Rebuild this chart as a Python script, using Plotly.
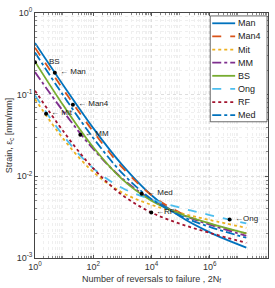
import math
import plotly.graph_objects as go

# reversals (2Nf) sample positions
N = [1, 10, 100, 1e3, 1e4, 1e5, 1e6, 1.8e7]

names = ["Man", "Man4", "Mit", "MM", "BS", "Ong", "RF", "Med"]
man  = [0.43, 0.126, 0.0389, 0.0137, 0.00586, 0.00319, 0.00206, 0.00134]
man4 = [0.376, 0.112, 0.0353, 0.0128, 0.00589, 0.00356, 0.00261, 0.00200]
mit  = [0.0882, 0.0279, 0.0113, 0.00632, 0.00447, 0.00354, 0.00292, 0.00234]
mm   = [0.189, 0.0605, 0.0216, 0.00939, 0.00518, 0.00344, 0.00256, 0.00187]
bs   = [0.254, 0.0714, 0.0227, 0.00916, 0.00502, 0.00346, 0.00266, 0.00200]
ong  = [0.098, 0.0305, 0.01254, 0.0072, 0.00519, 0.00411, 0.00336, 0.00265]
rf   = [0.112, 0.0345, 0.0125, 0.00589, 0.0036, 0.00261, 0.00203, 0.00153]
med  = [0.328, 0.0944, 0.0295, 0.01089, 0.00526, 0.00329, 0.0024, 0.00177]
series = [man, man4, mit, mm, bs, ong, rf, med]

colors = ["#0072BD", "#D95319", "#EDB120", "#7E2F8E", "#77AC30", "#4DBEEE", "#A2142F", "#0072BD"]
dashes = ["solid", "dash", "dot", "dashdot", "solid", "dash", "dot", "dashdot"]

# labelled marker points
mark_x = [1, 4.8, 20, 2.4, 36, 4600, 9800, 4.8e6]
mark_y = [0.25, 0.185, 0.075, 0.0583, 0.0323, 0.0061, 0.0036, 0.00297]
mark_txt = ["BS", "\u2190 Man", "\u2190 Man4", "\u2190 Mit", "\u2190 MM", "\u2190 Med", "\u2190RF", "\u2190Ong"]

xtick_vals = [1, 1e2, 1e4, 1e6, 1e8]
xtick_text = ["10<sup>0</sup>", "10<sup>2</sup>", "10<sup>4</sup>", "10<sup>6</sup>", "10<sup>8</sup>"]
ytick_vals = [1e-3, 1e-2, 1e-1, 1]
ytick_text = ["10<sup>-3</sup>", "10<sup>-2</sup>", "10<sup>-1</sup>", "10<sup>0</sup>"]

FONT = "Liberation Sans"
fig = go.Figure()
for nm, ys, c, d in zip(names, series, colors, dashes):
    fig.add_trace(go.Scatter(x=N, y=ys, name=nm, mode="lines", showlegend=False,
                             line=dict(color=c, dash=d, width=1.8, shape="spline")))

fig.add_trace(go.Scatter(x=mark_x, y=mark_y, mode="markers", showlegend=False,
                         marker=dict(color="black", size=4)))
for lx, ly, t in zip(mark_x, mark_y, mark_txt):
    fig.add_annotation(x=math.log10(lx), y=math.log10(ly),
                       text=t, showarrow=False, xanchor="left", yanchor="middle",
                       xshift=12 if t == "BS" else 3, yshift=1,
                       font=dict(size=8, color="#222", family=FONT))

# compact legend (MATLAB-style) built from the series lists
W, H, L, T = 234.0, 250.0, 35.0, 8.0
def px(xp):
    return (xp - L) / W
def py(yp):
    return (T + H - yp) / H
fig.add_shape(type="rect", xref="paper", yref="paper", x0=px(211), x1=px(268), y0=py(11), y1=py(119),
              line=dict(color="#444", width=0.8), fillcolor="white", layer="above")
for i, (nm, c, d) in enumerate(zip(names, colors, dashes)):
    yc = 18.5 + 13.4 * i
    fig.add_shape(type="line", xref="paper", yref="paper", x0=px(213), x1=px(236), y0=py(yc), y1=py(yc),
                  line=dict(color=c, dash=d, width=1.8), layer="above")
    fig.add_annotation(xref="paper", yref="paper", x=px(237), y=py(yc), text=nm, showarrow=False,
                       xanchor="left", yanchor="middle", font=dict(size=9, color="#222", family=FONT))

grid_major = "#dedede"
grid_minor = "#efefef"
minor_vals = [m * 10 ** e for e in range(-3, 8) for m in range(2, 10)]
common = dict(showgrid=True, gridcolor=grid_major, gridwidth=0.6, griddash="dot",
              ticks="inside", ticklen=3, tickcolor="#555", mirror="allticks",
              showline=True, linecolor="#444", linewidth=0.8, zeroline=False,
              minor=dict(showgrid=True, gridcolor=grid_minor, griddash="dot", ticks="inside",
                         ticklen=2, tickcolor="#888", tickvals=minor_vals),
              tickfont=dict(size=9, color="#333", family=FONT))
fig.update_xaxes(type="log", range=[0, 8], tickvals=xtick_vals, ticktext=xtick_text,
                 title=dict(text="Number of reversals to failure , 2N<sub>f</sub>",
                            font=dict(size=9, color="#333", family=FONT), standoff=4),
                 **common)
fig.update_yaxes(type="log", range=[-3, 0], tickvals=ytick_vals, ticktext=ytick_text,
                 title=dict(text="Strain, \u03b5<sub>c</sub> [mm/mm]",
                            font=dict(size=9, color="#333", family=FONT), standoff=2),
                 **common)

fig.update_layout(width=275, height=288, margin=dict(l=35, r=6, t=8, b=30),
                  plot_bgcolor="white", paper_bgcolor="white", showlegend=False,
                  font=dict(family=FONT, size=9, color="#333"))

fig.write_html("out.html")
